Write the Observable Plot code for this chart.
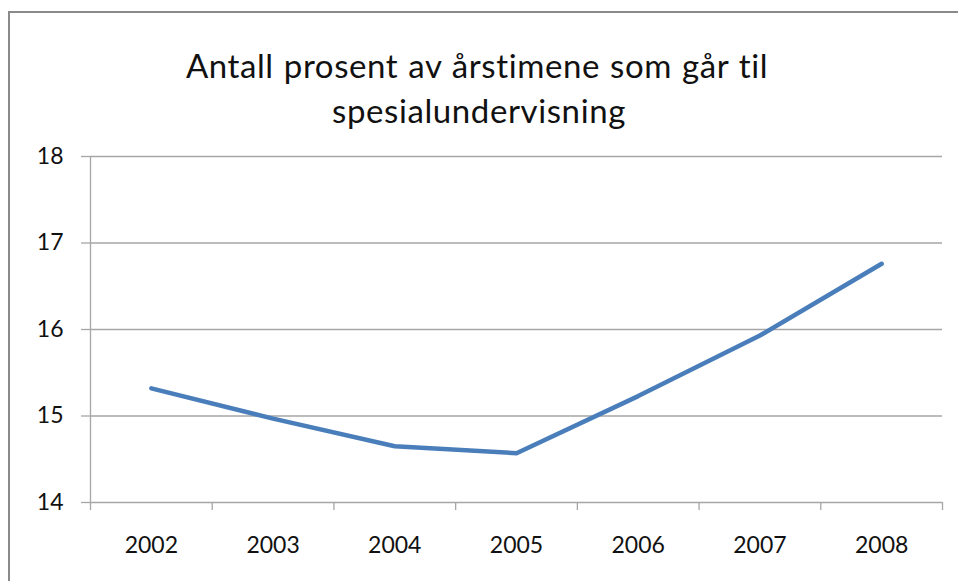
<!DOCTYPE html>
<html>
<head>
<meta charset="utf-8">
<script src="https://cdn.jsdelivr.net/npm/d3@7"></script>
<script src="https://cdn.jsdelivr.net/npm/@observablehq/plot@0.6"></script>
<style>
  html, body { margin: 0; padding: 0; background: #fff; }
  #wrap { position: relative; width: 958px; height: 581px; overflow: hidden; font-family: Lato, "Open Sans", sans-serif; }
  #frame { position: absolute; left: 8px; top: 11px; width: 1000px; height: 700px; border-left: 2px solid #8a8a8a; border-top: 2px solid #8a8a8a; box-sizing: border-box; }
  #title { position: absolute; left: 0; width: 958px; top: 43px; text-align: center; font-size: 33px; line-height: 45px; color: #111; letter-spacing: 0.6px; word-spacing: 1px; }
  #chart { position: absolute; left: 0; top: 0; }
</style>
</head>
<body>
<div id="wrap">
  <div id="frame"></div>
  <div id="title"><div style="padding-right:4px">Antall prosent av årstimene som går til</div><div>spesialundervisning</div></div>
  <div id="chart"></div>
</div>
<script>
const years = [2002, 2003, 2004, 2005, 2006, 2007, 2008];
const values = [15.32, 14.97, 14.65, 14.57, 15.23, 15.93, 16.76];
const yTicks = [14, 15, 16, 17, 18];

const data = years.map((year, i) => ({year, value: values[i]}));
const bounds = [years[0] - 0.5, ...years.map(y => y + 0.5)];
const gray = "#a6a6a6";

const chart = Plot.plot({
  width: 958,
  height: 581,
  marginLeft: 90,
  marginRight: 16,
  marginTop: 156,
  marginBottom: 79,
  style: {fontFamily: "Lato, 'Open Sans', sans-serif", fontSize: "23px", color: "#111", background: "transparent"},
  x: {type: "linear", domain: [bounds[0], bounds[bounds.length - 1]]},
  y: {domain: [14, 18]},
  marks: [
    Plot.gridY(yTicks, {stroke: gray, strokeOpacity: 1, strokeWidth: 1.3}),
    Plot.ruleX([bounds[0]], {stroke: gray, strokeWidth: 1.3}),
    Plot.axisY({ticks: yTicks, tickSize: 9, tickFormat: () => "", stroke: gray, strokeWidth: 1.3, label: null}),
    Plot.axisY({ticks: yTicks, tickSize: 0, tickPadding: 27, tickFormat: d => String(d), label: null}),
    Plot.axisX({ticks: bounds, tickSize: 8, tickFormat: () => "", stroke: gray, strokeWidth: 1.3, label: null}),
    Plot.axisX({ticks: years, tickSize: 0, tickPadding: 34, tickFormat: d => String(d), label: null}),
    Plot.line(data, {x: "year", y: "value", stroke: "#4a7ebb", strokeWidth: 4.5, strokeLinecap: "round", strokeLinejoin: "round"})
  ]
});
document.getElementById("chart").appendChild(chart);
</script>
</body>
</html>
